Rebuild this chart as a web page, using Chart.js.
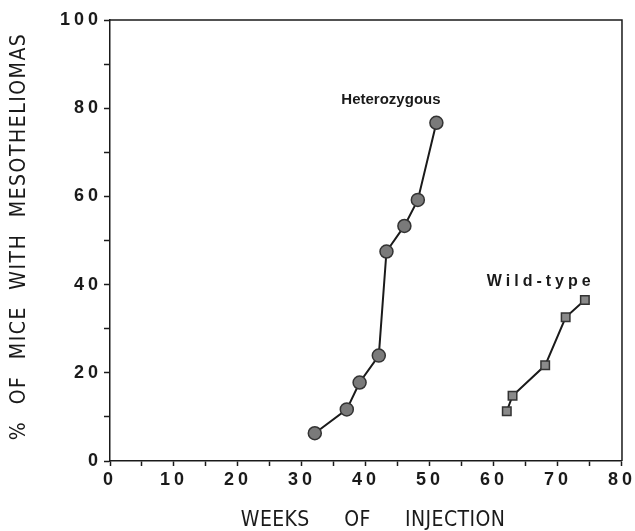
<!DOCTYPE html>
<html>
<head>
<meta charset="utf-8">
<script src="https://cdn.jsdelivr.net/npm/chart.js@4"></script>
<style>
  html, body { margin: 0; padding: 0; background: #fff; }
  #wrap { width: 635px; height: 531px; }
</style>
</head>
<body>
<div id="wrap"><canvas id="graph-canvas" width="635" height="531"></canvas></div>
<script>
// values
const hetWeeks = [32, 37, 39, 42, 43.2, 46, 48.1, 51];
const hetPct = [6.3, 11.7, 17.8, 23.9, 47.5, 53.3, 59.2, 76.7];
const wildWeeks = [62, 62.9, 68, 71.2, 74.2];
const wildPct = [11.3, 14.8, 21.7, 32.6, 36.5];
const xTicks = [0, 10, 20, 30, 40, 50, 60, 70, 80];
const yTicks = [0, 20, 40, 60, 80, 100];

const ink = '#1a1a1a';

const toPoints = (xs, ys) => xs.map((x, i) => ({ x: x, y: ys[i] }));

// the scan has wide-spaced tick digits and titles; canvas letterSpacing/wordSpacing does that
function patchScale(scale, labelSpacing, titleSpacing, wordSpacing, dx, dy) {
  if (scale._spaced) return;
  scale._spaced = true;
  const drawLabels = scale.drawLabels.bind(scale);
  scale.drawLabels = (area) => {
    const c = scale.ctx;
    c.save();
    c.letterSpacing = labelSpacing;
    drawLabels(area);
    c.restore();
  };
  const drawTitle = scale.drawTitle.bind(scale);
  scale.drawTitle = () => {
    const c = scale.ctx;
    c.save();
    c.letterSpacing = titleSpacing;
    c.wordSpacing = wordSpacing;
    c.translate(dx, dy);
    drawTitle();
    c.restore();
  };
}

// frame on top/right and the two curve labels
const extras = {
  id: 'extras',
  beforeDraw(chart) {
    patchScale(chart.scales.x, '4px', '0.4px', '28px', 7, 0);
    patchScale(chart.scales.y, '4px', '1.5px', '9px', 0, -4);
  },
  afterDraw(chart) {
    const { ctx, chartArea, scales } = chart;
    ctx.save();
    ctx.strokeStyle = ink;
    ctx.lineWidth = 1.5;
    ctx.beginPath();
    ctx.moveTo(chartArea.left, chartArea.top);
    ctx.lineTo(chartArea.right, chartArea.top);
    ctx.lineTo(chartArea.right, chartArea.bottom);
    ctx.stroke();

    ctx.fillStyle = ink;
    ctx.font = 'bold 15px "Liberation Sans", Arial, sans-serif';
    ctx.textAlign = 'center';
    ctx.textBaseline = 'middle';
    ctx.letterSpacing = '0px';
    ctx.fillText('Heterozygous', scales.x.getPixelForValue(43.9), scales.y.getPixelForValue(82));
    ctx.font = 'bold 16px "Liberation Sans", Arial, sans-serif';
    ctx.letterSpacing = '4px';
    ctx.fillText('Wild-type', scales.x.getPixelForValue(67.3), scales.y.getPixelForValue(40.6));
    ctx.restore();
  }
};

const tickFont = { family: '"Liberation Sans", Arial, sans-serif', size: 18, weight: 'bold' };
const titleFont = { family: '"Liberation Sans Narrow", "DejaVu Sans Condensed", sans-serif', size: 21, lineHeight: 1 };

const ctx = document.getElementById('graph-canvas').getContext('2d');
const chart = new Chart(ctx, {
  type: 'scatter',
  data: {
    datasets: [
      {
        label: 'Heterozygous',
        data: toPoints(hetWeeks, hetPct),
        showLine: true,
        borderColor: ink,
        borderWidth: 2,
        pointStyle: 'circle',
        pointRadius: 6.5,
        pointBackgroundColor: '#7a7a7a',
        pointBorderColor: '#333',
        pointBorderWidth: 1.5
      },
      {
        label: 'Wild-type',
        data: toPoints(wildWeeks, wildPct),
        showLine: true,
        borderColor: ink,
        borderWidth: 2,
        pointStyle: 'rect',
        pointRadius: 6,
        pointBackgroundColor: '#8a8a8a',
        pointBorderColor: '#333',
        pointBorderWidth: 1.5
      }
    ]
  },
  options: {
    responsive: false,
    animation: false,
    layout: { padding: { top: 20, right: 12, left: 0, bottom: 0 } },
    plugins: {
      legend: { display: false },
      tooltip: { enabled: false }
    },
    scales: {
      x: {
        type: 'linear',
        min: 0,
        max: 80,
        afterFit: (scale) => { scale.height = 70; },
        afterBuildTicks: (scale) => {
          const t = [];
          for (let v = 0; v <= 80; v += 5) t.push({ value: v });
          scale.ticks = t;
        },
        ticks: {
          autoSkip: false,
          maxRotation: 0,
          color: ink,
          font: tickFont,
          padding: 3,
          callback: (v) => (xTicks.includes(v) ? String(v) : '')
        },
        grid: {
          drawOnChartArea: false,
          tickLength: 5,
          tickColor: ink,
          tickWidth: 1.5
        },
        border: { color: ink, width: 1.5 },
        title: {
          display: true,
          text: 'WEEKS OF INJECTION',
          color: ink,
          font: titleFont,
          padding: { top: 0, bottom: 0 }
        }
      },
      y: {
        type: 'linear',
        min: 0,
        max: 100,
        afterFit: (scale) => { scale.width = 110; },
        afterBuildTicks: (scale) => {
          const t = [];
          for (let v = 0; v <= 100; v += 10) t.push({ value: v });
          scale.ticks = t;
        },
        ticks: {
          autoSkip: false,
          color: ink,
          font: tickFont,
          padding: 2,
          callback: (v) => (yTicks.includes(v) ? String(v) : '')
        },
        grid: {
          drawOnChartArea: false,
          tickLength: 6,
          tickColor: ink,
          tickWidth: 1.5
        },
        border: { color: ink, width: 1.5 },
        title: {
          display: true,
          text: '% OF MICE WITH MESOTHELIOMAS',
          color: ink,
          font: titleFont,
          padding: { top: 9, bottom: 0 }
        }
      }
    }
  },
  plugins: [extras]
});
</script>
</body>
</html>
